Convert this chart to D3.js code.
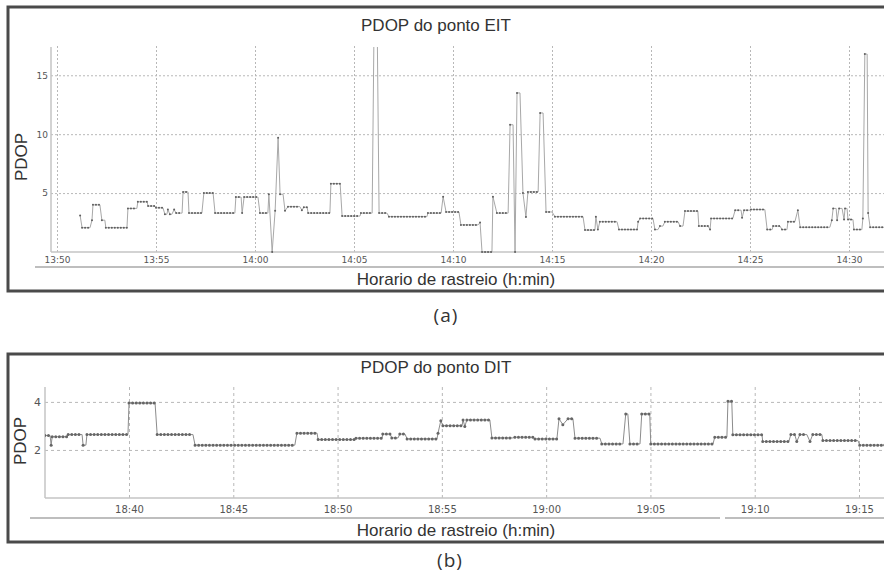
<!DOCTYPE html>
<html>
<head>
<meta charset="utf-8">
<style>
  body { margin: 0; background: #fff; }
  svg { display: block; }
  .title, .axis-title { font-family: "Liberation Sans", Arial, sans-serif; fill: #333; }
  .caption { font-family: "Open Sans", sans-serif; fill: #333; }
  .tick text { font-family: "DejaVu Sans", sans-serif; fill: #555; }
</style>
</head>
<body>
<svg width="884" height="572"></svg>
<script src="https://cdn.jsdelivr.net/npm/d3@7/dist/d3.min.js"></script>
<script>
// ---- (a) PDOP do ponto EIT : niveis (inicio, fim, PDOP)
const eitStart = ["13:51:10","13:51:16","13:51:46","13:51:49","13:52:16","13:52:28","13:53:35","13:54:05","13:54:36","13:55:00",
  "13:55:27","13:55:36","13:55:42","13:55:55","13:56:01","13:56:22","13:56:40","13:57:25","13:57:59","13:59:02",
  "13:59:21","13:59:27","14:00:15","14:00:42","14:00:52","14:01:01","14:01:10","14:01:16","14:01:31","14:01:40",
  "14:02:22","14:02:28","14:02:41","14:03:50","14:04:24","14:05:21","14:06:01","14:06:16","14:06:46","14:08:44",
  "14:09:30","14:09:39","14:10:24","14:11:22","14:11:28","14:12:01","14:12:13","14:12:53","14:13:08","14:13:14",
  "14:13:32","14:13:41","14:13:47","14:14:24","14:14:42","14:15:09","14:16:40","14:17:13","14:17:19","14:17:25",
  "14:18:23","14:19:21","14:19:27","14:20:12","14:20:27","14:20:42","14:21:28","14:21:43","14:22:25","14:22:59",
  "14:23:02","14:24:15","14:24:36","14:24:42","14:25:03","14:25:52","14:26:10","14:26:37","14:26:55","14:27:25",
  "14:27:32","14:29:08","14:29:12","14:29:24","14:29:30","14:29:45","14:29:48","14:29:57","14:30:15","14:30:42",
  "14:30:48","14:30:58","14:31:04"];
const eitEnd = ["13:51:10","13:51:40","13:51:46","13:52:10","13:52:25","13:53:32","13:54:02","13:54:33","13:54:57","13:55:21",
  "13:55:33","13:55:36","13:55:48","13:55:55","13:56:19","13:56:37","13:57:19","13:57:53","13:58:59","13:59:18",
  "13:59:21","14:00:09","14:00:39","14:00:42","14:00:52","14:01:01","14:01:10","14:01:25","14:01:31","14:02:16",
  "14:02:22","14:02:38","14:03:47","14:04:18","14:05:18","14:05:55","14:06:10","14:06:40","14:08:41","14:09:24",
  "14:09:30","14:10:18","14:11:16","14:11:22","14:11:58","14:12:01","14:12:47","14:13:02","14:13:08","14:13:23",
  "14:13:32","14:13:41","14:14:18","14:14:33","14:15:00","14:16:34","14:17:10","14:17:13","14:17:19","14:18:17",
  "14:19:18","14:19:21","14:20:06","14:20:21","14:20:36","14:21:22","14:21:37","14:22:22","14:22:53","14:22:59",
  "14:24:08","14:24:33","14:24:36","14:25:00","14:25:45","14:26:07","14:26:31","14:26:52","14:27:16","14:27:25",
  "14:29:02","14:29:08","14:29:21","14:29:24","14:29:39","14:29:45","14:29:54","14:30:12","14:30:39","14:30:42",
  "14:30:55","14:30:58","14:32:30"];
const eitPdop = [3.1,2.06,2.7,4.0,2.7,2.06,3.7,4.26,3.9,3.75,
  3.2,3.6,3.2,3.6,3.3,5.1,3.3,5.0,3.3,4.66,
  3.3,4.66,3.3,4.9,0,3.5,9.7,4.9,3.5,3.85,
  3.55,3.8,3.3,5.8,3.05,3.3,20,3.3,3.0,3.3,
  4.7,3.4,2.3,2.5,0,4.7,3.3,10.8,0,13.5,
  5.0,2.97,5.1,11.8,3.4,3.0,1.86,3.0,1.9,2.57,
  1.9,2.57,2.85,1.9,2.2,2.57,2.2,3.47,2.2,1.9,
  2.85,3.55,2.9,3.55,3.6,1.9,2.2,1.9,2.57,3.55,
  2.1,2.7,3.7,2.7,3.7,2.75,3.7,2.75,1.9,2.85,
  16.8,3.3,2.1];
const eitTimeTicks = ["13:50","13:55","14:00","14:05","14:10","14:15","14:20","14:25","14:30"];
const eitPdopTicks = [5, 10, 15];

// ---- (b) PDOP do ponto DIT
const ditStart = ["18:35:58","18:36:16","18:36:19","18:37:05","18:37:48","18:37:59","18:40:00","18:41:21","18:43:10","18:48:03",
  "18:49:04","18:50:53","18:52:10","18:52:36","18:52:59","18:53:20","18:54:49","18:54:57","18:55:03","18:56:01",
  "18:56:06","18:56:12","18:57:24","18:58:30","18:59:28","19:00:37","19:00:48","19:01:03","19:01:23","19:02:40",
  "19:03:49","19:04:01","19:04:35","19:05:01","19:08:05","19:08:43","19:08:57","19:10:23","19:11:44","19:12:01",
  "19:12:10","19:12:39","19:12:47","19:13:16","19:15:02"];
const ditEnd = ["18:36:13","18:36:16","18:37:02","18:37:45","18:37:56","18:39:57","18:41:15","18:43:04","18:47:57","18:49:01",
  "18:50:50","18:52:08","18:52:31","18:52:54","18:53:14","18:54:46","18:54:49","18:54:57","18:55:58","18:56:01",
  "18:56:06","18:57:18","18:58:24","18:59:22","19:00:31","19:00:37","19:00:48","19:01:17","19:02:35","19:03:41",
  "19:03:55","19:04:30","19:04:58","19:08:00","19:08:40","19:08:54","19:10:21","19:11:38","19:11:55","19:12:01",
  "19:12:30","19:12:39","19:13:13","19:14:57","19:16:30"];
const ditPdop = [2.6,2.2,2.55,2.64,2.2,2.64,3.95,2.64,2.2,2.7,
  2.43,2.49,2.66,2.5,2.66,2.46,2.7,3.22,3.01,3.25,
  2.98,3.25,2.5,2.53,2.46,3.3,3.05,3.3,2.49,2.25,
  3.5,2.25,3.5,2.25,2.53,4.03,2.63,2.35,2.64,2.35,
  2.64,2.35,2.64,2.39,2.2];
const ditTimeTicks = ["18:40","18:45","18:50","18:55","19:00","19:05","19:10","19:15"];
const ditPdopTicks = [2, 4];

const svg = d3.select("svg");
const parse = d3.timeParse("%H:%M:%S");
const tick = s => parse(s + ":00");

function drawPanel(o) {
  const g = svg.append("g");

  // moldura
  g.append("rect")
    .attr("x", o.frame[0]).attr("y", o.frame[1])
    .attr("width", o.frame[2]).attr("height", o.frame[3])
    .attr("fill", "none").attr("stroke", "#4a4a4a").attr("stroke-width", 3);

  const x = d3.scaleTime()
    .domain([tick(o.xTicks[0]), tick(o.xTicks[o.xTicks.length - 1])])
    .range(o.xRange);
  const y = d3.scaleLinear().domain(o.yDomain).range([o.bottom, o.top]);

  // grade vertical
  g.append("g")
    .attr("transform", `translate(0,${o.bottom})`)
    .call(d3.axisBottom(x).tickValues(o.xTicks.map(tick)).tickSize(-(o.bottom - o.top + 2)).tickFormat(""))
    .call(a => a.select(".domain").remove())
    .call(a => a.selectAll("line").attr("stroke", "#b8b8b8").attr("stroke-dasharray", o.dash));

  // grade horizontal
  g.append("g")
    .attr("transform", `translate(${o.left},0)`)
    .call(d3.axisLeft(y).tickValues(o.yTicks).tickSize(-(900 - o.left)).tickFormat(""))
    .call(a => a.select(".domain").remove())
    .call(a => a.selectAll("line").attr("stroke", "#b8b8b8").attr("stroke-dasharray", o.dash));

  // eixos
  g.append("line").attr("x1", o.left).attr("x2", o.left).attr("y1", o.top).attr("y2", o.bottom)
    .attr("stroke", "#c4c4c4").attr("stroke-width", 1.5);
  g.append("line").attr("x1", o.left).attr("x2", 900).attr("y1", o.bottom).attr("y2", o.bottom)
    .attr("stroke", "#c4c4c4").attr("stroke-width", 1.5);

  // rotulos do eixo x
  g.append("g")
    .attr("transform", `translate(0,${o.bottom})`)
    .call(d3.axisBottom(x).tickValues(o.xTicks.map(tick)).tickSize(0).tickPadding(o.xPad).tickFormat(d3.timeFormat("%H:%M")))
    .call(a => a.select(".domain").remove())
    .call(a => a.selectAll("text").attr("font-size", o.xFont));

  // rotulos do eixo y
  g.append("g")
    .attr("transform", `translate(${o.left},0)`)
    .call(d3.axisLeft(y).tickValues(o.yTicks).tickSize(0).tickPadding(o.yPad).tickFormat(d3.format("d")))
    .call(a => a.select(".domain").remove())
    .call(a => a.selectAll("text").attr("font-size", o.yFont));

  // linha abaixo dos rotulos
  o.underline.forEach(([x1, x2]) => {
    g.append("line").attr("x1", x1).attr("x2", x2).attr("y1", o.underY).attr("y2", o.underY)
      .attr("stroke", "#a9a9a9").attr("stroke-width", 1.5);
  });

  // titulos
  g.append("text").attr("class", "title").attr("x", 436).attr("y", o.titleY)
    .attr("text-anchor", "middle").attr("font-size", 17).text(o.title);
  g.append("text").attr("class", "axis-title").attr("x", 456).attr("y", o.xTitleY)
    .attr("text-anchor", "middle").attr("font-size", 17).text("Horario de rastreio (h:min)");
  g.append("text").attr("class", "axis-title")
    .attr("transform", `translate(${o.yTitleX},${o.yTitleY}) rotate(-90)`)
    .attr("text-anchor", "middle").attr("font-size", 17).text("PDOP");

  // serie
  const clipId = "clip" + o.id;
  svg.append("clipPath").attr("id", clipId).append("rect")
    .attr("x", o.left).attr("y", o.top).attr("width", 900 - o.left).attr("height", o.bottom - o.top + 2);

  const segs = o.start.map((s, i) => ({ t0: parse(s), t1: parse(o.end[i]), v: o.values[i] }));
  const pts = segs.flatMap(d => [[d.t0, d.v], [d.t1, d.v]]);
  const plot = g.append("g").attr("clip-path", `url(#${clipId})`);

  plot.append("path")
    .attr("d", d3.line().x(d => x(d[0])).y(d => y(d[1]))(pts))
    .attr("fill", "none").attr("stroke", o.lineColor).attr("stroke-width", 1);

  plot.selectAll(".lvl").data(segs).join("line")
    .attr("class", "lvl")
    .attr("x1", d => x(d.t0)).attr("x2", d => x(d.t1))
    .attr("y1", d => y(d.v)).attr("y2", d => y(d.v))
    .attr("stroke", o.markColor).attr("stroke-width", o.markSize)
    .attr("stroke-linecap", "round").attr("stroke-dasharray", `0,${o.markGap}`);

  // legenda (a)/(b)
  svg.append("text").attr("class", "caption").attr("x", o.capX).attr("y", o.capY)
    .attr("text-anchor", "middle").attr("font-size", 19).attr("letter-spacing", 1).text(o.caption);
}

drawPanel({
  id: "a", title: "PDOP do ponto EIT", caption: "(a)",
  start: eitStart, end: eitEnd, values: eitPdop,
  xTicks: eitTimeTicks, yTicks: eitPdopTicks,
  frame: [8, 7, 900, 284], left: 51, top: 47, bottom: 252,
  xRange: [57, 849], yDomain: [0, 17.4],
  dash: "2,2", xFont: 9, yFont: 9, xPad: 5, yPad: 3,
  underY: 267, underline: [[35, 900]],
  titleY: 31, xTitleY: 285, yTitleX: 27, yTitleY: 157,
  lineColor: "#a8a8a8", markColor: "#5e5e5e", markSize: 2, markGap: 3,
  capX: 446, capY: 322
});

drawPanel({
  id: "b", title: "PDOP do ponto DIT", caption: "(b)",
  start: ditStart, end: ditEnd, values: ditPdop,
  xTicks: ditTimeTicks, yTicks: ditPdopTicks,
  frame: [8, 354, 900, 188], left: 45, top: 387, bottom: 498,
  xRange: [129, 859], yDomain: [0, 4.62],
  dash: "3,3", xFont: 10, yFont: 11, xPad: 8, yPad: 4,
  underY: 518, underline: [[30, 720], [725, 900]],
  titleY: 373, xTitleY: 536, yTitleX: 26, yTitleY: 441,
  lineColor: "#8c8c8c", markColor: "#666", markSize: 3, markGap: 3.6,
  capX: 450, capY: 567
});
</script>
</body>
</html>
